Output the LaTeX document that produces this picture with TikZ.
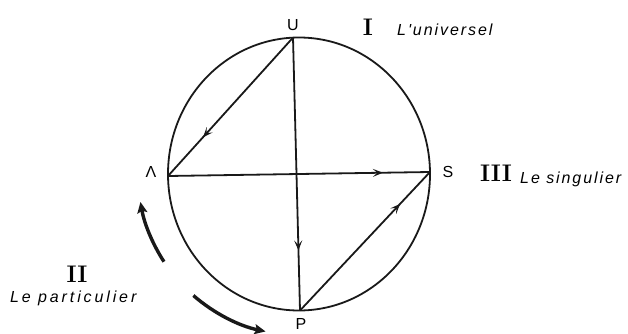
\documentclass[tikz,border=0pt]{standalone}
\usepackage{fontspec}
\newfontfamily\lblfont{Liberation Sans}
\newfontfamily\spacedsans[LetterSpace=12]{Liberation Sans}
\newfontfamily\widesans[LetterSpace=18]{Liberation Sans}
\usetikzlibrary{arrows.meta,decorations.markings}
\tikzset{
  mainline/.style={line width=1.8pt,draw=black!90},
  midarrow/.style={postaction={decorate},decoration={markings,mark=at position #1 with {\arrow{Stealth[length=10pt,width=8pt,inset=4.5pt]}}}},
  bigarrow/.style={line width=3.4pt,draw=black!90,-{Stealth[length=11pt,width=10pt,inset=2pt]}},
  lbl/.style={inner sep=0pt,font=\lblfont\fontsize{16}{16}\selectfont},
  num/.style={inner sep=0pt,font=\fontsize{24}{24}\selectfont\bfseries},
  itl/.style={inner sep=0pt,font=\spacedsans\itshape\fontsize{16}{16}\selectfont},
  itlw/.style={inner sep=0pt,font=\widesans\itshape\fontsize{16}{16}\selectfont}
}
\begin{document}
\begin{tikzpicture}[x=1pt,y=1pt]
\useasboundingbox (0,0) rectangle (628,333);
\coordinate (O) at (299,159);
\coordinate (U) at (293,295.4);
\coordinate (L) at (168,157);
\coordinate (S) at (430,161);
\coordinate (P) at (300,22.5);
\draw[mainline] (O) ellipse [x radius=131pt, y radius=136.5pt];
\draw[mainline,midarrow=0.72] (U) -- (L);
\draw[mainline,midarrow=0.82] (L) -- (S);
\draw[mainline,midarrow=0.78] (U) -- (P);
\draw[mainline,midarrow=0.77] (P) -- (S);
\draw[bigarrow] ([shift={(213:161pt)}]O) arc[start angle=213,end angle=190,radius=161pt];
\draw[bigarrow] ([shift={(229:161pt)}]O) arc[start angle=229,end angle=258,radius=161pt];
\node[lbl] (uL) at (293,308) {U};
\node[num] (n1) at (368,306) {I};
\node[itl,anchor=base west] (t1) at (397,298) {L'universel};
\node[lbl] (lL) at (151,161) {Λ};
\node[lbl] (sL) at (448,161) {S};
\node[num] (n3) at (496,160) {III};
\node[itl,anchor=base west] (t3) at (520,150) {Le singulier};
\node[lbl] (pL) at (301,9) {P};
\node[num] (n2) at (77,59) {II};
\node[itlw,anchor=base west] (t2) at (10,31) {Le particulier};
\end{tikzpicture}
\end{document}
